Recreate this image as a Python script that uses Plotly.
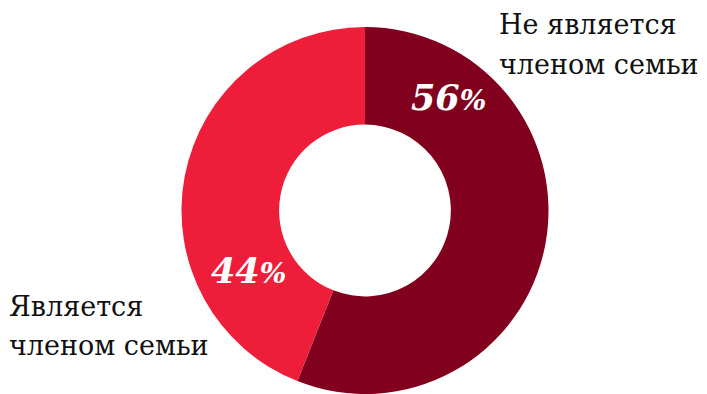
import plotly.graph_objects as go

categories = ["Не является<br>членом семьи", "Является<br>членом семьи"]
values = [56, 44]
colors = ["#80001e", "#ee1e3a"]
pct_labels = ["56", "44"]

W, H = 707, 394
T = 27

fig = go.Figure(go.Pie(
    labels=categories, values=values, sort=False, direction="clockwise", rotation=0,
    hole=0.468, marker=dict(colors=colors, line=dict(width=0)),
    textinfo="none", hoverinfo="none", showlegend=False,
    domain=dict(x=[0.0325, 1], y=[0, 1]),
))

def px(x):
    return x / W

def py(y):
    return (H - y) / (H - T)

serif = "DejaVu Serif, Liberation Serif, serif"

# category labels, one annotation per line for wider line spacing
label_pos = [(497, [25, 64]), (7, [306, 345])]
for lab, (x, ys) in zip(categories, label_pos):
    for line, y in zip(lab.split("<br>"), ys):
        fig.add_annotation(text=line, x=px(x), y=py(y), xref="paper", yref="paper",
                           xanchor="left", yanchor="middle", align="left", showarrow=False,
                           font=dict(family=serif, size=27, color="#111111"))

# percentage labels
pct_pos = [(449, 97), (248, 270)]
for p, (x, y) in zip(pct_labels, pct_pos):
    fig.add_annotation(text=f"<b><i>{p}<span style='font-size:28px'>%</span></i></b>",
                       x=px(x), y=py(y), xref="paper", yref="paper",
                       xanchor="center", yanchor="middle", showarrow=False,
                       font=dict(family=serif, size=35, color="white"))

fig.update_layout(width=W, height=H, margin=dict(l=0, r=0, t=T, b=0),
                  paper_bgcolor="white", plot_bgcolor="white")
fig.write_html("out.html")
